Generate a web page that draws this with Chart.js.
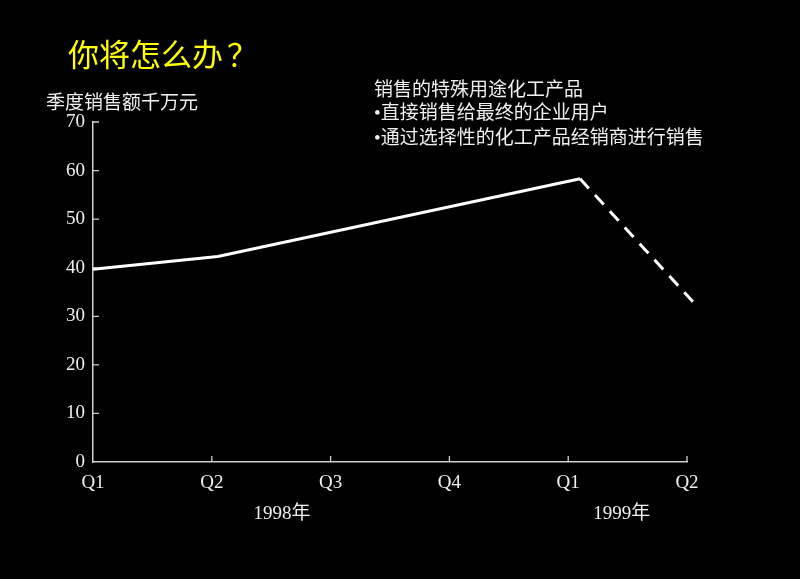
<!DOCTYPE html>
<html>
<head>
<meta charset="utf-8">
<script src="https://cdn.jsdelivr.net/npm/chart.js@4"></script>
<style>
  html, body { margin: 0; padding: 0; background: #000; }
  #wrap { position: relative; width: 800px; height: 579px; background: #000; overflow: hidden; }
  #chart { position: absolute; left: 0; top: 0; }
  .txt { position: absolute; white-space: nowrap; font-family: "Noto Sans CJK SC", sans-serif; }
  #title { left: 68px; top: 37px; font-size: 31px; line-height: 31px; color: #ffff00; }
  #ytitle { left: 46px; top: 91px; font-size: 19px; line-height: 20px; color: #f0f0f0; }
  #note { left: 374px; top: 76px; font-size: 19px; line-height: 23px; color: #f0f0f0; }
  .dot { font-family: "Liberation Serif", serif; }
</style>
</head>
<body>
<div id="wrap">
  <canvas id="chart" width="800" height="579"></canvas>
  <div class="txt" id="title">你将怎么办<span style="margin-left:4px">？</span></div>
  <div class="txt" id="ytitle">季度销售额千万元</div>
  <div class="txt" id="note">销售的特殊用途化工产品<br><span class="dot">•</span>直接销售给最终的企业用户<br><span class="dot">•</span>通过选择性的化工产品经销商进行销售</div>
</div>
<script>
// ======== DATA ========
const quarterLabels = ["Q1", "Q2", "Q3", "Q4", "Q1", "Q2"];
const salesX = [0, 1.05, 4.1, 5.05];
const salesY = [39.7, 42.3, 58.3, 33];
const yearLabels = ["1998年", "1999年"];
const yearPos = [1.59, 4.45];
const yMin = 0, yMax = 70, yStep = 10;

const points = salesX.map((x, i) => ({ x: x, y: salesY[i] }));
const axisColor = "#d0d0d0";
const textColor = "#f0f0f0";
const serif = "'Liberation Serif', 'Noto Sans CJK SC', serif";

// Vạch chia hướng vào trong + nhãn năm
const extrasPlugin = {
  id: "extras",
  afterDraw(chart) {
    const ctx = chart.ctx;
    const xs = chart.scales.x, ys = chart.scales.y;
    ctx.save();
    ctx.strokeStyle = axisColor;
    ctx.lineWidth = 1.3;
    ctx.beginPath();
    xs.ticks.forEach((t) => {
      if (t.value === xs.min) return;
      const px = xs.getPixelForValue(t.value);
      ctx.moveTo(px, ys.bottom);
      ctx.lineTo(px, ys.bottom - 6);
    });
    ys.ticks.forEach((t) => {
      if (t.value === ys.min) return;
      const py = ys.getPixelForValue(t.value);
      ctx.moveTo(xs.left, py);
      ctx.lineTo(xs.left + 6, py);
    });
    ctx.stroke();

    ctx.fillStyle = textColor;
    ctx.font = "19px " + serif;
    ctx.textAlign = "center";
    ctx.textBaseline = "middle";
    yearLabels.forEach((lab, i) => {
      ctx.fillText(lab, xs.getPixelForValue(yearPos[i]), 514);
    });
    ctx.restore();
  }
};

new Chart(document.getElementById("chart"), {
  type: "line",
  data: {
    datasets: [{
      data: points,
      borderColor: "#ffffff",
      borderWidth: 3,
      pointRadius: 0,
      tension: 0,
      clip: false,
      borderCapStyle: "butt",
      segment: {
        borderDash: (c) => (c.p1DataIndex === salesX.length - 1 ? [13, 9] : undefined)
      }
    }]
  },
  options: {
    responsive: false,
    animation: false,
    events: [],
    layout: { padding: { top: 122, right: 113, bottom: 0, left: 0 } },
    plugins: { legend: { display: false }, tooltip: { enabled: false } },
    scales: {
      x: {
        type: "linear",
        min: 0,
        max: quarterLabels.length - 1,
        afterFit: (s) => { s.height = 117; },
        border: { color: axisColor, width: 1.5 },
        grid: { drawOnChartArea: false, drawTicks: false },
        ticks: {
          stepSize: 1,
          padding: 10,
          color: textColor,
          font: { family: serif, size: 19 },
          callback: (v) => quarterLabels[v]
        }
      },
      y: {
        min: yMin,
        max: yMax,
        afterFit: (s) => { s.width = 93; },
        border: { color: axisColor, width: 1.5 },
        grid: { drawOnChartArea: false, drawTicks: false },
        ticks: {
          stepSize: yStep,
          padding: 8,
          color: textColor,
          font: { family: serif, size: 19 }
        }
      }
    }
  },
  plugins: [extrasPlugin]
});
</script>
</body>
</html>
